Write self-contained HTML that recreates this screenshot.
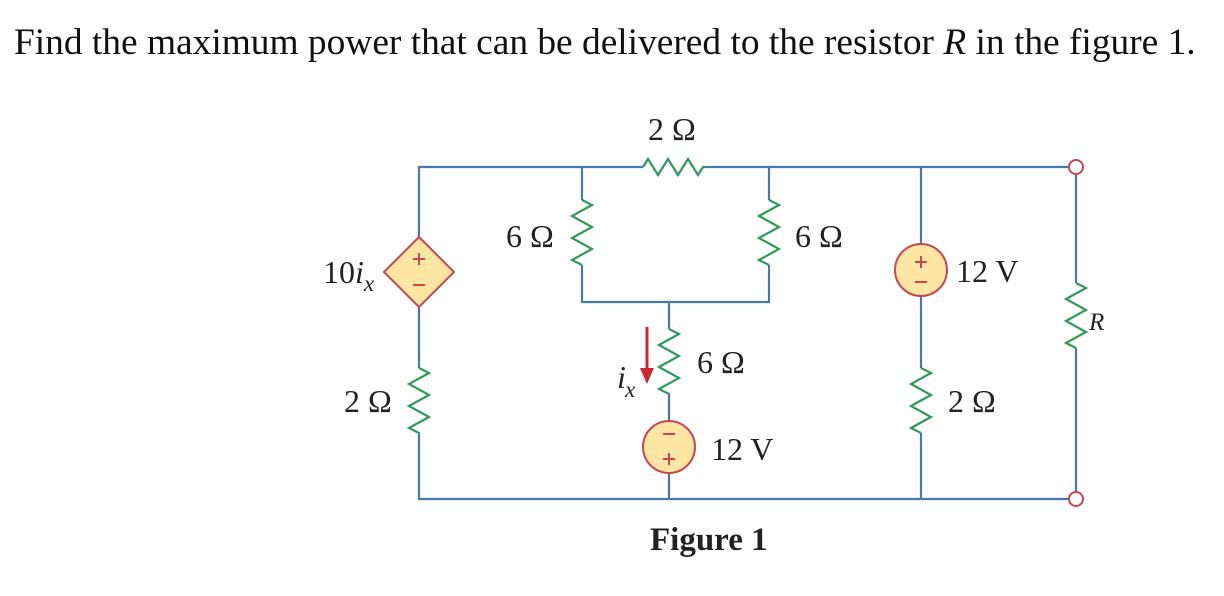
<!DOCTYPE html>
<html><head><style>
html,body{margin:0;padding:0;background:#fff;}
body{width:1224px;height:596px;overflow:hidden;position:relative;font-family:"Liberation Serif",serif;}
.t{position:absolute;left:14px;top:21px;font-size:37.4px;white-space:nowrap;color:#111;}
</style></head><body>
<div class="t">Find the maximum power that can be delivered to the resistor <i>R</i> in the figure 1.</div>
<svg width="1224" height="596" style="position:absolute;left:0;top:0" font-family="Liberation Serif, serif">
<g stroke="#4a78a8" stroke-width="2.2" fill="none">
<path d="M419 237 V167 H643 M706 167 H1069"/>
<path d="M419 307 V368 M419 432 V499 H1069"/>
<path d="M582 167 V200 M582 265 V302 H769 V265 M769 200 V167"/>
<path d="M669 302 V329 M669 393 V421 M669 473 V499"/>
<path d="M921 167 V244 M921 296 V368 M921 433 V499"/>
<path d="M1076 174 V283 M1076 348 V492"/>
</g>
<g stroke="#2f9a5a" stroke-width="2.2" fill="none" stroke-linejoin="miter">
<path d="M643 167 l5 -8 l10 16 l10 -16 l10 16 l10 -16 l10 16 l5 -8 l3 0"/>
<path d="M582 200 l10 5 l-20 11 l20 11 l-20 11 l20 11 l-20 11 l10 5"/>
<path d="M769 200 l10 5 l-20 11 l20 11 l-20 11 l20 11 l-20 11 l10 5"/>
<path d="M669 329 l10 5 l-20 11 l20 11 l-20 11 l20 11 l-20 11 l10 5"/>
<path d="M419 368 l10 5 l-20 11 l20 11 l-20 11 l20 11 l-20 11 l10 5"/>
<path d="M921 368 l10 5 l-20 11 l20 11 l-20 11 l20 11 l-20 11 l10 5"/>
<path d="M1076 283 l10 5 l-20 11 l20 11 l-20 11 l20 11 l-20 11 l10 5"/>
</g>
<g stroke="#c9464e" stroke-width="2" fill="#fde6a3">
<path d="M419 237 L454 272 L419 307 L384 272 Z"/>
<circle cx="669" cy="447" r="26"/>
<circle cx="921" cy="270" r="26"/>
</g>
<g stroke="#c9464e" stroke-width="2" fill="#fff">
<circle cx="1076" cy="167" r="7"/>
<circle cx="1076" cy="499" r="7"/>
</g>
<g stroke="#c9464e" stroke-width="2">
<path d="M419 253 v12 M413 259 h12 M413 285 h12"/>
<path d="M663 434 h12 M663 459 h12 M669 453 v12"/>
<path d="M915 262 h12 M921 256 v12 M915 282 h12"/>
</g>
<path d="M647 327 V370" stroke="#c8262e" stroke-width="3"/>
<path d="M640 368 L654 368 L647 384 Z" fill="#c8262e"/>
<g fill="#222" font-size="32">
<text x="648" y="140">2 Ω</text>
<text x="506" y="247">6 Ω</text>
<text x="795" y="247">6 Ω</text>
<text x="323" y="283">10<tspan font-style="italic">i</tspan><tspan font-style="italic" font-size="23" dy="8">x</tspan></text>
<text x="956" y="282">12 V</text>
<text x="1089" y="330" font-style="italic" font-size="25">R</text>
<text x="697" y="373">6 Ω</text>
<text x="617" y="388" font-style="italic">i</text><text x="625" y="397" font-style="italic" font-size="23">x</text>
<text x="344" y="412">2 Ω</text>
<text x="948" y="412">2 Ω</text>
<text x="711" y="460">12 V</text>
<text x="650" y="550" font-weight="bold" font-size="33">Figure 1</text>
</g>
</svg>
</body></html>
